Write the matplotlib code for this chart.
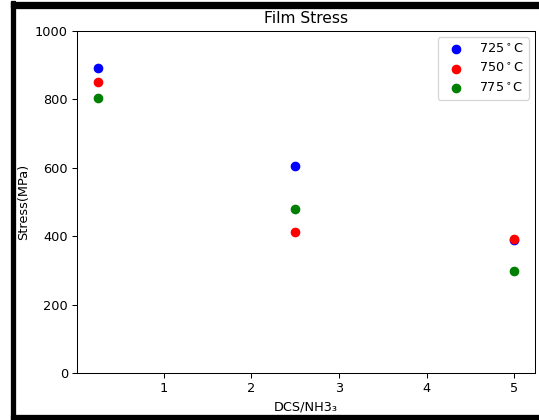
"""Film stress vs DCS/NH3 ratio."""

import matplotlib.pyplot as plt
from matplotlib.patches import Rectangle

ratio = [0.25, 2.5, 5]
stress_725 = [892, 606, 388]
stress_750 = [851, 412, 392]
stress_775 = [803, 480, 299]
labels = ["725$^\\circ$C", "750$^\\circ$C", "775$^\\circ$C"]
colors = ["blue", "red", "green"]

W, H = 539, 420
DPI = 93
fig = plt.figure(figsize=(W / DPI, H / DPI), dpi=DPI)
ax = fig.add_axes([77 / W, 1 - 373 / H, (535 - 77) / W, (373 - 31) / H])

for ys, lab, c in zip([stress_725, stress_750, stress_775], labels, colors):
    ax.scatter(ratio, ys, color=c, label=lab, s=42)

ax.set_ylim(0, 1000)
ax.set_title("Film Stress")
ax.set_xlabel("DCS/NH3\u2083")
ax.set_ylabel("Stress(MPa)")
ax.legend(loc="upper right")

# black frame from the screenshot (left, top, bottom)
frame = dict(color="black", transform=None, zorder=10)
fig.patches.append(Rectangle((11, 0), 4, H - 1, **frame))
fig.patches.append(Rectangle((11, H - 8), W - 11, 6, **frame))
fig.patches.append(Rectangle((11, 1), W - 11, 4, **frame))

fig.savefig("out.png", dpi=DPI)
